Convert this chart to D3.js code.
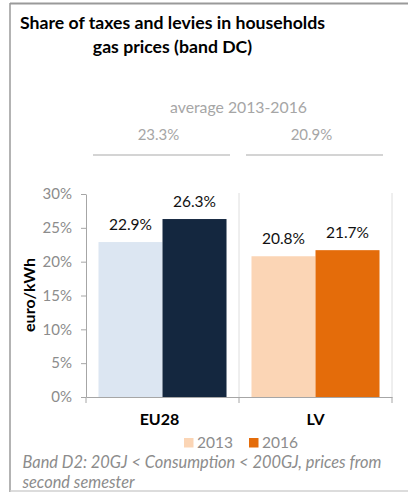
<!DOCTYPE html>
<html><head><meta charset="utf-8">
<script src="https://cdn.jsdelivr.net/npm/d3@7"></script>
<style>
html,body{margin:0;padding:0;background:#fff;}
svg{display:block;font-family:Lato,"Open Sans",sans-serif;}
</style></head>
<body>
<svg id="chart" width="408" height="492"></svg>
<script>
const categories = ["EU28", "LV"];
const years = ["2013", "2016"];
const values2013 = [22.9, 20.8];
const values2016 = [26.3, 21.7];
const averages = [23.3, 20.9];
const yTicks = [0, 5, 10, 15, 20, 25, 30];
const titleLines = ["Share of taxes and levies in households", "gas prices (band DC)"];
const avgTitle = "average 2013-2016";
const yLabel = "euro/kWh";
const noteLines = ["Band D2: 20GJ < Consumption < 200GJ, prices from", "second semester"];
const barColors = [["#DCE6F2", "#14273F"], ["#FBD5B5", "#E46C0A"]];

const svg = d3.select("#chart");

function fit(sel, w) {
  const n = sel.node();
  const fs = parseFloat(sel.attr("font-size"));
  const len = n.getComputedTextLength();
  if (len > 0) sel.attr("font-size", (fs * w / len).toFixed(2));
  return sel;
}

// frame
svg.append("line").attr("x1", 10).attr("x2", 408).attr("y1", 3.5).attr("y2", 3.5)
  .attr("stroke", "#9a9a9a").attr("stroke-width", 2);
svg.append("line").attr("x1", 10).attr("x2", 10).attr("y1", 3).attr("y2", 492)
  .attr("stroke", "#9a9a9a").attr("stroke-width", 1.5);
svg.append("line").attr("x1", 10).attr("x2", 408).attr("y1", 491).attr("y2", 491)
  .attr("stroke", "#d0d0d0").attr("stroke-width", 1.5);

// title
let titleSize = 16;
titleLines.forEach((t, i) => {
  const el = svg.append("text").attr("x", 172.5).attr("y", 29 + i * 23.5)
    .attr("text-anchor", "middle").attr("font-weight", "bold").attr("font-size", titleSize)
    .attr("fill", "#000").text(t);
  if (i === 0) { fit(el, 305); titleSize = el.attr("font-size"); }
});

const x0 = d3.scaleBand().domain(categories).range([86, 392]).padding(0);
const x1 = d3.scaleBand().domain(years).range([0, x0.bandwidth()]).paddingInner(0).paddingOuter(0.195);
const y = d3.scaleLinear().domain([0, 30]).range([397, 194]);

// averages header
fit(svg.append("text").attr("x", 238.5).attr("y", 113).attr("text-anchor", "middle")
  .attr("font-size", 15).attr("fill", "#a6a6a6").text(avgTitle), 137);
categories.forEach((c, i) => {
  svg.append("text").attr("x", x0(c) + x0.bandwidth() / 2 - 4).attr("y", 140)
    .attr("text-anchor", "middle").attr("font-size", 15).attr("fill", "#a6a6a6")
    .text(averages[i].toFixed(1) + "%");
  svg.append("line").attr("x1", x0(c) + 7).attr("x2", x0(c) + x0.bandwidth() - 9)
    .attr("y1", 155).attr("y2", 155).attr("stroke", "#d4d4d4").attr("stroke-width", 2);
});

// vertical separators
[x0("LV"), 392].forEach(xv => {
  svg.append("line").attr("x1", xv).attr("x2", xv).attr("y1", 193).attr("y2", 397)
    .attr("stroke", "#dedede").attr("stroke-width", 1);
});

// y axis
const yAxis = svg.append("g").attr("transform", "translate(86,0)")
  .call(d3.axisLeft(y).tickValues(yTicks).tickSize(5).tickSizeOuter(0).tickFormat(d => d + "%"));
yAxis.select(".domain").attr("stroke", "#a6a6a6");
yAxis.selectAll(".tick line").attr("stroke", "#a6a6a6");
yAxis.selectAll(".tick text").attr("fill", "#8c8c8c").attr("font-size", 15)
  .attr("font-family", "Lato,'Open Sans',sans-serif").attr("x", -14);

// bars
const rows = categories.map((c, i) => ({ c, i, vals: [values2013[i], values2016[i]] }));
const groups = svg.selectAll("g.cat").data(rows).join("g").attr("class", "cat")
  .attr("transform", d => `translate(${x0(d.c)},0)`);
groups.selectAll("rect").data(d => d.vals.map((v, j) => ({ v, j, i: d.i })))
  .join("rect")
  .attr("x", d => x1(years[d.j])).attr("width", x1.bandwidth())
  .attr("y", d => y(d.v)).attr("height", d => y(0) - y(d.v))
  .attr("fill", d => barColors[d.i][d.j]);
groups.selectAll("text.val").data(d => d.vals.map((v, j) => ({ v, j })))
  .join("text").attr("class", "val")
  .attr("x", d => x1(years[d.j]) + x1.bandwidth() / 2)
  .attr("y", d => y(d.v) - 12)
  .attr("text-anchor", "middle").attr("font-size", 15.5).attr("fill", "#111")
  .text(d => d.v.toFixed(1) + "%");

// x axis
const xAxis = svg.append("g").attr("transform", "translate(0,397)")
  .call(d3.axisBottom(x0).tickSize(0).tickFormat(""));
xAxis.select(".domain").attr("stroke", "#a6a6a6");
[86, x0("LV"), 392].forEach(xv => {
  svg.append("line").attr("x1", xv).attr("x2", xv).attr("y1", 397).attr("y2", 403)
    .attr("stroke", "#a6a6a6");
});
categories.forEach(c => {
  svg.append("text").attr("x", x0(c) + x0.bandwidth() / 2 - (c === "EU28" ? 3 : 0)).attr("y", 425)
    .attr("text-anchor", "middle").attr("font-weight", "bold").attr("font-size", 16)
    .attr("fill", "#000").text(c);
});

// y label
svg.append("text").attr("transform", "translate(35,295) rotate(-90)")
  .attr("text-anchor", "middle").attr("font-weight", "bold").attr("font-size", 16)
  .attr("fill", "#000").text(yLabel);

// legend
const legX = [184, 249];
years.forEach((yr, j) => {
  svg.append("rect").attr("x", legX[j]).attr("y", 438).attr("width", 9.5).attr("height", 9.5)
    .attr("fill", barColors[1][j]);
  svg.append("text").attr("x", legX[j] + 13).attr("y", 448).attr("font-size", 15.5)
    .attr("fill", "#8c8c8c").text(yr);
});

// footnote
let noteSize = 15;
noteLines.forEach((t, i) => {
  const el = svg.append("text").attr("x", 22.5).attr("y", 468 + i * 20)
    .attr("font-style", "italic").attr("font-size", noteSize).attr("fill", "#8c8c8c").text(t);
  if (i === 0) { fit(el, 359); noteSize = el.attr("font-size"); }
});
</script>
</body></html>
